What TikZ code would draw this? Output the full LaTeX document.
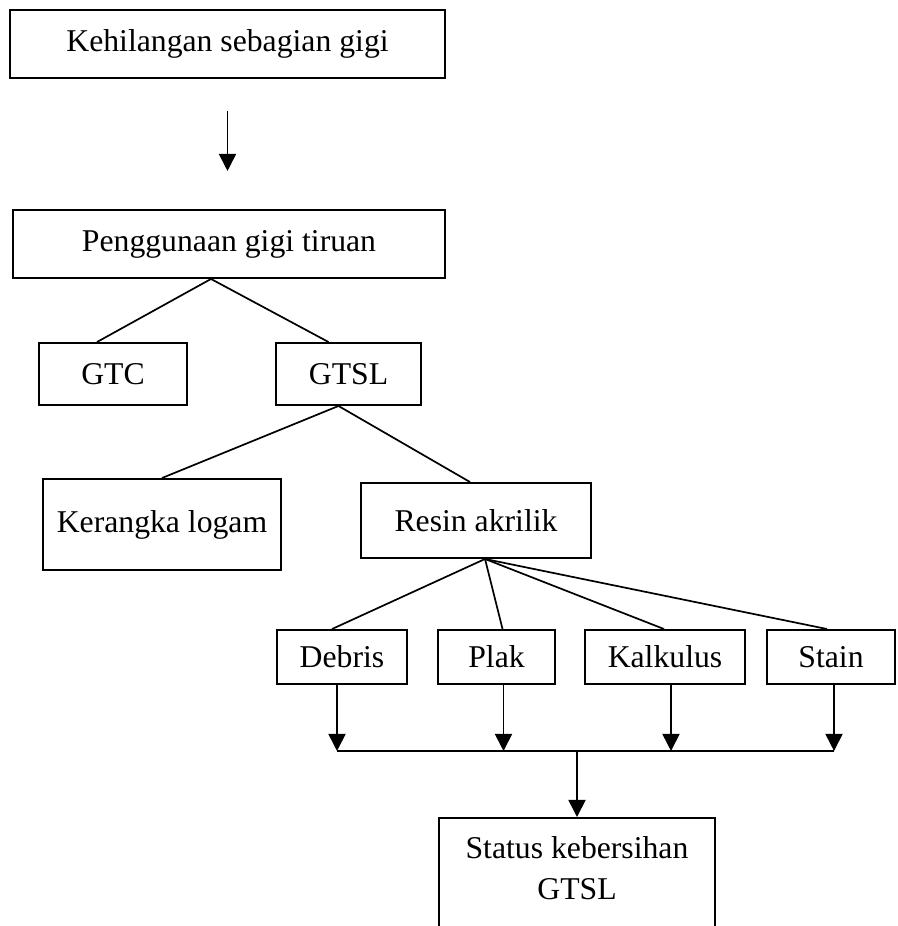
\documentclass[tikz,border=0pt]{standalone}
\usepackage{fontspec}
\setmainfont{Liberation Serif}
\usepackage{tikz}
\usetikzlibrary{calc,arrows.meta}
\tikzstyle{whitebox}=[rectangle,draw=black,fill=white,line width=0.8pt,
                      font=\fontsize{13}{16.8}\selectfont,inner sep=0pt]
\tikzstyle{link}=[line width=0.7pt]
\tikzstyle{arrowlink}=[line width=0.7pt,-{Triangle[width=7pt,length=7pt]}]
\tikzset{boxsize/.style 2 args={minimum width=#1*0.41pt,minimum height=#2*0.41pt}}
\newcommand\toplabel[3]{\parbox[t][#2][t]{#1}{\centering #3}}

\begin{document}
\begin{tikzpicture}[x=0.41pt,y=-0.41pt]
    \path [use as bounding box,clip] (0,0) rectangle (897,926);
    % upper part
    \node [whitebox,boxsize={435}{68}] (kehilangan) at (227.5,44) {Kehilangan sebagian gigi};
    \node [whitebox,boxsize={432}{68}] (penggunaan) at (229,244) {Penggunaan gigi tiruan};
    \node [whitebox,boxsize={148}{62}] (gtc) at (113,374) {GTC};
    \node [whitebox,boxsize={145}{62}] (gtsl) at (348.5,374) {GTSL};
    \node [whitebox,boxsize={238}{91}] (kerangka) at (162,524.5) {Kerangka logam};
    \node [whitebox,boxsize={230}{75}] (resin) at (476,520.5) {Resin akrilik};
    % deposits
    \node [whitebox,boxsize={130}{54}] (debris) at (342,657) {Debris};
    \node [whitebox,boxsize={117}{54}] (plak) at (496.5,657) {Plak};
    \node [whitebox,boxsize={160}{54}] (kalkulus) at (665,657) {Kalkulus};
    \node [whitebox,boxsize={128}{54}] (stain) at (831,657) {Stain};
    \node [whitebox,anchor=north,inner ysep=7.5pt] (status) at (577,817) {
        \toplabel{113pt}{50pt}{Status kebersihan\\GTSL}
    };

    \draw [arrowlink,shorten <=13pt,shorten >=15.6pt] (kehilangan.south) -- (kehilangan.south |- penggunaan.north);
    \draw [link] ($(penggunaan.south)+(-18,0)$) -- ($(gtc.north)+(-16,0)$);
    \draw [link] ($(penggunaan.south)+(-18,0)$) -- ($(gtsl.north)+(-20,0)$);
    \draw [link] ($(gtsl.south)+(-10,0)$) -- (kerangka.north);
    \draw [link] ($(gtsl.south)+(-10,0)$) -- ($(resin.north)+(-6,0)$);
    \foreach \leaf/\dx in {debris/-10,plak/6,kalkulus/-1,stain/-4}
        \draw [link] ($(resin.south)+(9,0)$) -- ($(\leaf.north)+(\dx,0)$);

    % arrows into the bar
    \foreach \leaf/\dx in {debris/-5,plak/7,kalkulus/6,stain/3}{
        \coordinate (\leaf-in) at ($(\leaf.south)+(\dx,66)$);
        \draw [arrowlink] ($(\leaf.south)+(\dx,0)$) -- (\leaf-in);
    }
    \draw [link] (debris-in) -- (stain-in);
    \coordinate (merge) at (status.north |- debris-in);
    \draw [arrowlink] (merge) -- (status.north);
\end{tikzpicture}
\end{document}
